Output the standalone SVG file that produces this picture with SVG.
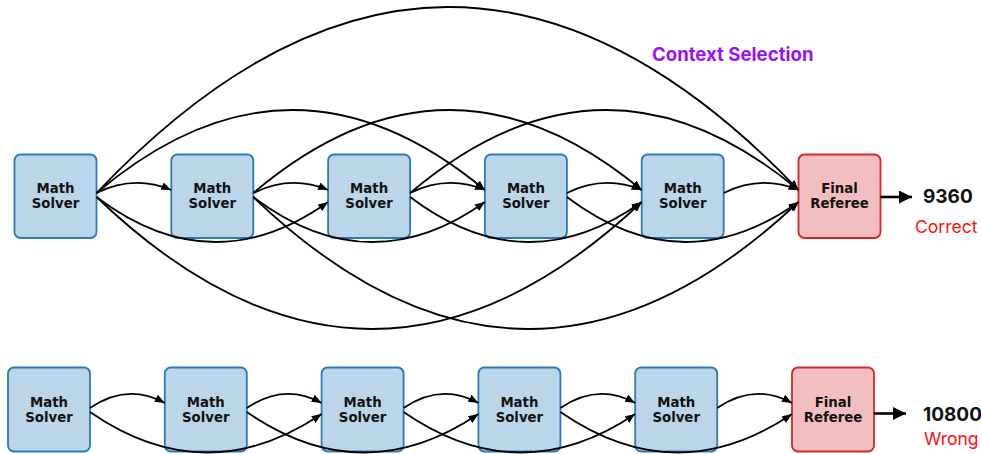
<svg xmlns="http://www.w3.org/2000/svg" width="981" height="454" viewBox="0 0 981 454">
<defs>
<style>
.solver rect{fill:#bcd6e9;stroke:#2a7ab9;stroke-width:1.8}
.referee rect{fill:#f3bebf;stroke:#d62728;stroke-width:1.8}
.lbl{font-family:"DejaVu Sans","Liberation Sans",sans-serif;font-weight:bold;font-size:13.3px;fill:#111;text-anchor:middle}
.edge{fill:none;stroke:#000;stroke-width:1.8;marker-end:url(#ah)}
.out{fill:none;stroke:#000;stroke-width:2.6;marker-end:url(#ah2)}
.num{font-family:Inter,"Liberation Sans",sans-serif;font-weight:bold;font-size:19px;fill:#111}
.res{font-family:Inter,"Liberation Sans",sans-serif;font-size:17.5px;fill:#ff1010}
</style>
<marker id="ah" markerUnits="userSpaceOnUse" markerWidth="10" markerHeight="8" refX="10" refY="4" orient="auto" viewBox="0 0 10 8"><path d="M0,0 L10,4 L0,8 z" fill="#000"/></marker>
<marker id="ah2" markerUnits="userSpaceOnUse" markerWidth="13" markerHeight="13" refX="13" refY="6.5" orient="auto" viewBox="0 0 13 13"><path d="M0,0 L13,6.5 L0,13 z" fill="#000"/></marker>
</defs>
<rect width="981" height="454" fill="#fff"/>
<g id="t1" class="solver"><rect x="14.5" y="154.5" width="82" height="83.5" rx="6"/><text class="lbl" x="55.5" y="193">Math</text><text class="lbl" x="55.5" y="208">Solver</text></g>
<g id="t2" class="solver"><rect x="171.3" y="154.5" width="82" height="83.5" rx="6"/><text class="lbl" x="212.3" y="193">Math</text><text class="lbl" x="212.3" y="208">Solver</text></g>
<g id="t3" class="solver"><rect x="328.1" y="154.5" width="82" height="83.5" rx="6"/><text class="lbl" x="369.1" y="193">Math</text><text class="lbl" x="369.1" y="208">Solver</text></g>
<g id="t4" class="solver"><rect x="484.9" y="154.5" width="82" height="83.5" rx="6"/><text class="lbl" x="525.9" y="193">Math</text><text class="lbl" x="525.9" y="208">Solver</text></g>
<g id="t5" class="solver"><rect x="641.7" y="154.5" width="82" height="83.5" rx="6"/><text class="lbl" x="682.7" y="193">Math</text><text class="lbl" x="682.7" y="208">Solver</text></g>
<g id="tR" class="referee"><rect x="798.5" y="154.5" width="82" height="83.5" rx="6"/><text class="lbl" x="839.5" y="193">Final</text><text class="lbl" x="839.5" y="208">Referee</text></g>
<g id="b1" class="solver"><rect x="8" y="367.5" width="82" height="84" rx="6"/><text class="lbl" x="49" y="406.5">Math</text><text class="lbl" x="49" y="421.5">Solver</text></g>
<g id="b2" class="solver"><rect x="164.8" y="367.5" width="82" height="84" rx="6"/><text class="lbl" x="205.8" y="406.5">Math</text><text class="lbl" x="205.8" y="421.5">Solver</text></g>
<g id="b3" class="solver"><rect x="321.6" y="367.5" width="82" height="84" rx="6"/><text class="lbl" x="362.6" y="406.5">Math</text><text class="lbl" x="362.6" y="421.5">Solver</text></g>
<g id="b4" class="solver"><rect x="478.4" y="367.5" width="82" height="84" rx="6"/><text class="lbl" x="519.4" y="406.5">Math</text><text class="lbl" x="519.4" y="421.5">Solver</text></g>
<g id="b5" class="solver"><rect x="635.2" y="367.5" width="82" height="84" rx="6"/><text class="lbl" x="676.2" y="406.5">Math</text><text class="lbl" x="676.2" y="421.5">Solver</text></g>
<g id="bR" class="referee"><rect x="792" y="367.5" width="82" height="84" rx="6"/><text class="lbl" x="833" y="406.5">Final</text><text class="lbl" x="833" y="421.5">Referee</text></g>
<g id="connectors">
<path class="edge" d="M96.5,193 Q133.9,174.5 171.3,190"/>
<path class="edge" d="M253.3,193 Q290.7,174.5 328.1,190"/>
<path class="edge" d="M410.1,193 Q447.5,174.5 484.9,190"/>
<path class="edge" d="M566.9,193 Q604.3,174.5 641.7,190"/>
<path class="edge" d="M723.7,193 Q761.1,174.5 798.5,190"/>
<path class="edge" d="M96.5,197 Q212.3,284.5 328.1,202"/>
<path class="edge" d="M253.3,197 Q369.1,284.5 484.9,202"/>
<path class="edge" d="M410.1,197 Q525.9,284.5 641.7,202"/>
<path class="edge" d="M566.9,197 Q682.7,284.5 798.5,202"/>
<path class="edge" d="M96.5,193 Q290.7,28.5 484.9,190"/>
<path class="edge" d="M253.3,193 Q447.5,28.5 641.7,190"/>
<path class="edge" d="M410.1,193 Q604.3,28.5 798.5,190"/>
<path class="edge" d="M96.5,197 Q369.1,458.5 641.7,202"/>
<path class="edge" d="M253.3,197 Q525.9,458.5 798.5,202"/>
<path class="edge" d="M96.5,193 Q447.5,-177.5 798.5,190"/>
<path class="edge" d="M90,408 Q127.4,382.5 164.8,403"/>
<path class="edge" d="M246.8,408 Q284.2,382.5 321.6,403"/>
<path class="edge" d="M403.6,408 Q441,382.5 478.4,403"/>
<path class="edge" d="M560.4,408 Q597.8,382.5 635.2,403"/>
<path class="edge" d="M717.2,408 Q754.6,382.5 792,403"/>
<path class="edge" d="M90,412 Q205.8,492 321.6,414"/>
<path class="edge" d="M246.8,412 Q362.6,492 478.4,414"/>
<path class="edge" d="M403.6,412 Q519.4,492 635.2,414"/>
<path class="edge" d="M560.4,412 Q676.2,492 792,414"/>
<path class="out" d="M880.5,197 L912,197"/>
<path class="out" d="M874,413.5 L906,413.5"/>
</g>
<text x="652" y="61" style="font-family:Inter,'Liberation Sans',sans-serif;font-weight:bold;font-size:18.6px;fill:#9b10f5">Context Selection</text>
<text class="num" x="923" y="203">9360</text>
<text class="res" x="915" y="233">Correct</text>
<text class="num" x="923" y="420.5">10800</text>
<text class="res" x="924" y="445">Wrong</text>
</svg>
